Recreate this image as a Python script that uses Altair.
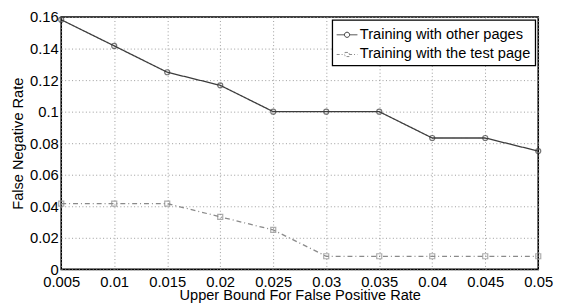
import altair as alt
import pandas as pd

x_vals = [0.005, 0.01, 0.015, 0.02, 0.025, 0.03, 0.035, 0.04, 0.045, 0.05]
other_pages = [0.1583, 0.1417, 0.125, 0.1167, 0.1, 0.1, 0.1, 0.0833, 0.0833, 0.075]
test_page = [0.0417, 0.0417, 0.0417, 0.0333, 0.025, 0.0083, 0.0083, 0.0083, 0.0083, 0.0083]
series_names = ["Training with other pages", "Training with the test page"]
y_ticks = [0, 0.02, 0.04, 0.06, 0.08, 0.1, 0.12, 0.14, 0.16]

rows = []
for xv, a, b in zip(x_vals, other_pages, test_page):
    rows.append({"x": xv, "y": a, "series": series_names[0]})
    rows.append({"x": xv, "y": b, "series": series_names[1]})
df = pd.DataFrame(rows)

colors = ["#3c3c3c", "#8a8a8a"]
dashes = [[1, 0], [5, 3, 1, 3]]
legend_paths = [
    "M-1,0H-0.25M0.25,0H1M-0.25,0A0.25,0.25,0,1,1,0.25,0A0.25,0.25,0,1,1,-0.25,0Z",
    "M-1,0H-0.2M0.2,0H1M-0.2,-0.2H0.2V0.2H-0.2Z",
]

xs = alt.X("x:Q", scale=alt.Scale(domain=[0.005, 0.05], nice=False, zero=False),
           axis=alt.Axis(values=x_vals, format=".3~f", title="Upper Bound For False Positive Rate"))
ys = alt.Y("y:Q", scale=alt.Scale(domain=[0, 0.16], nice=False),
           axis=alt.Axis(values=y_ticks, format=".2~f", title="False Negative Rate"))
col = alt.Color("series:N", scale=alt.Scale(domain=series_names, range=colors))
dash = alt.StrokeDash("series:N", scale=alt.Scale(domain=series_names, range=dashes))

lines = alt.Chart(df).mark_line(strokeWidth=1.3).encode(
    x=xs, y=ys, color=col.legend(None), strokeDash=dash.legend(None), detail="series:N"
)
points = alt.Chart(df).mark_point(filled=False, size=26, strokeWidth=1.2).encode(
    x=xs, y=ys, color=col.legend(None),
    shape=alt.Shape("series:N", scale=alt.Scale(domain=series_names, range=["circle", "square"]), legend=None),
)
legend_layer = alt.Chart(df).mark_point(filled=False, opacity=0, strokeWidth=1).encode(
    x=xs, y=ys,
    color=alt.Color("series:N", scale=alt.Scale(domain=series_names, range=colors), title=None),
    shape=alt.Shape("series:N", scale=alt.Scale(domain=series_names, range=legend_paths), title=None),
    strokeDash=alt.StrokeDash("series:N", scale=alt.Scale(domain=series_names, range=[[1, 0], [3, 2, 1, 2]]), title=None),
)

chart = alt.layer(lines, points, legend_layer).resolve_scale(
    color="independent", shape="independent", strokeDash="independent"
).properties(
    width=484, height=256,
    autosize=alt.AutoSizeParams(type="none"),
    padding={"left": 54, "top": 7, "right": 17, "bottom": 35},
).configure_view(
    stroke="black", strokeWidth=1.6
).configure_axis(
    domain=False, ticks=False, grid=True, gridColor="#9a9a9a", gridDash=[1, 2.5], gridWidth=1,
    labelFont="Liberation Sans", labelFontSize=15, labelColor="black",
    titleFont="Liberation Sans", titleFontSize=14.8, titleFontWeight="normal", titleColor="black",
).configure_axisX(
    labelPadding=5, titlePadding=-1, labelFlush=False
).configure_axisY(
    labelPadding=3, titlePadding=4
).configure_legend(
    orient="none", legendX=275, legendY=3, fillColor="white", strokeColor="black",
    padding=4, labelFont="Liberation Sans", labelFontSize=14.8, labelColor="black", labelLimit=400,
    symbolSize=441, symbolStrokeWidth=1, symbolOpacity=1, rowPadding=2, labelOffset=2,
    cornerRadius=0, symbolFillColor="transparent", strokeWidth=1.3
)

chart.save("out.html", embed_options={"renderer": "svg", "actions": False})
